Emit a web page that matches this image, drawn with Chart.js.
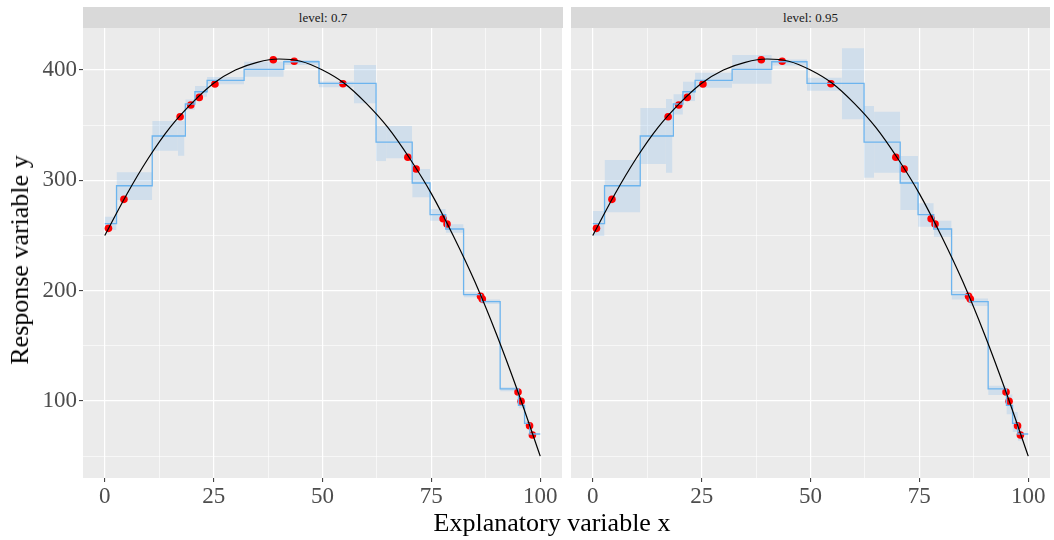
<!DOCTYPE html>
<html>
<head>
<meta charset="utf-8">
<script src="https://cdn.jsdelivr.net/npm/chart.js@4.4.0/dist/chart.umd.min.js"></script>
<style>
  body { margin: 0; background: #fff; font-family: "Liberation Serif", serif; }
  #wrap { position: relative; width: 1054px; height: 540px; overflow: hidden; }
  canvas { position: absolute; top: 0; }
  .strip { position: absolute; top: 7px; height: 21px; background: #d9d9d9; color: #1a1a1a;
           font-size: 13px; line-height: 21px; text-align: center; }
  .title { position: absolute; color: #000; font-size: 26px; white-space: nowrap; }
</style>
</head>
<body>
<div id="wrap">
  <canvas id="left" width="566" height="540" style="left:0"></canvas>
  <canvas id="right" width="488" height="540" style="left:566px"></canvas>
  <div class="strip" style="left:83px;width:480px">level: 0.7</div>
  <div class="strip" style="left:571px;width:479px">level: 0.95</div>
  <div class="title" id="xt" style="left:552px;top:523px;transform:translate(-50%,-50%)">Explanatory variable x</div>
  <div class="title" id="yt" style="left:20px;top:260px;transform:translate(-50%,-50%) rotate(-90deg)">Response variable y</div>
</div>
<script>
// observed points (same in both panels)
var pointX = [0.85, 4.4, 17.3, 19.75, 21.7, 25.3, 38.7, 43.5, 54.7, 69.6, 71.5, 77.7, 78.6, 86.3, 86.7, 94.9, 95.6, 97.55, 98.2];
var pointY = [256.5, 282.8, 357.7, 368.3, 375.2, 387.3, 409.3, 407.9, 387.6, 320.9, 310.3, 265.2, 260.4, 194.9, 192.4, 108.2, 99.7, 77.6, 69.2];

// true mean curve, read every 5 units
var curveX = [0, 5, 10, 15, 20, 25, 30, 35, 40, 45, 50, 55, 60, 65, 70, 75, 80, 85, 90, 95, 100];
var curveY = [250, 287, 320, 348, 370, 388, 400, 407, 410, 408, 400, 388, 370, 348, 320, 288, 250, 208, 160, 107, 50];

// step fit: start of each step and its value, last entry closes the line at x=100
var stepX = [0, 2.7, 10.9, 18.5, 20.7, 23.5, 32.0, 41.1, 49.2, 62.3, 70.6, 74.7, 78.3, 82.4, 86.5, 90.8, 95.0, 96.4, 97.6, 100];
var stepY = [260.7, 295.1, 340.2, 369.2, 380.3, 390.6, 400.6, 407.5, 387.9, 334.7, 297.6, 268.9, 255.9, 196.4, 190.0, 110.9, 96.1, 79.8, 70.1, 70.1];

// bands, level 0.7
var band70X0 = [0, 2.7, 10.9, 16.8, 18.5, 20.7, 23.5, 32.0, 41.1, 49.2, 57.2, 62.3, 64.6, 70.6, 74.7, 78.3, 82.4, 86.5, 90.8, 95.0, 96.4, 97.6];
var band70X1 = [2.7, 10.9, 16.8, 18.3, 20.7, 23.5, 32.0, 41.1, 49.2, 57.2, 62.3, 64.6, 70.6, 74.7, 78.3, 82.4, 86.5, 90.8, 95.0, 96.4, 97.6, 98.6];
var band70Lo = [255, 282.2, 326.9, 322.3, 364, 375.8, 387, 393.9, 404.5, 384.3, 369.8, 317.5, 320, 284.6, 263.4, 252.6, 194, 188, 108.8, 93.5, 77.5, 68];
var band70Hi = [267, 307.3, 353.8, 353.8, 373.4, 385.5, 393.7, 407.5, 409, 389.7, 404.5, 349.2, 349.2, 310.3, 274, 260.1, 198.5, 192, 112.4, 98.5, 82, 72];

// bands, level 0.95
var band95X0 = [0, 2.7, 10.9, 16.8, 18.5, 20.7, 23.5, 32.0, 41.1, 49.2, 57.2, 62.3, 64.6, 70.6, 74.7, 78.3, 82.4, 86.5, 90.8, 95.0, 96.4, 97.6];
var band95X1 = [2.7, 10.9, 16.8, 18.3, 20.7, 23.5, 32.0, 41.1, 49.2, 57.2, 62.3, 64.6, 70.6, 74.7, 78.3, 82.4, 86.5, 90.8, 95.0, 96.4, 97.6, 98.6];
var band95Lo = [249.5, 271, 314.8, 307, 359.8, 371.9, 384, 387.6, 404, 381.3, 355.3, 302.4, 306.9, 273.1, 258, 248.9, 192, 186, 105.4, 88, 72, 64];
var band95Hi = [272.2, 318.4, 365.6, 373.7, 378, 389.4, 397.6, 413.6, 409.5, 393, 419.7, 367.4, 362.2, 322, 279.2, 263.4, 200, 193, 113.9, 106, 90, 76];

var xGrid = [0, 12.5, 25, 37.5, 50, 62.5, 75, 87.5, 100];
var yGrid = [50, 100, 150, 200, 250, 300, 350, 400];

// grey panel background
var panelBg = {
  id: 'panelBg',
  beforeDraw: function(chart) {
    var a = chart.chartArea, c = chart.ctx;
    c.save();
    c.fillStyle = '#ebebeb';
    c.fillRect(a.left, a.top, a.right - a.left, a.bottom - a.top);
    c.restore();
  }
};

function xy(xs, ys) {
  return xs.map(function(x, i) { return {x: x, y: ys[i]}; });
}

function makePanel(id, x0, x1, lo, hi, first) {
  var sets = [];
  for (var i = 0; i < x0.length; i++) {
    sets.push({
      data: [{x: x0[i], y: hi[i]}, {x: x1[i], y: hi[i]}],
      borderWidth: 0, pointRadius: 0,
      backgroundColor: 'rgba(120,180,235,0.24)',
      fill: {value: lo[i]},
      order: 10
    });
  }
  sets.push({
    data: xy(pointX, pointY), showLine: false,
    pointRadius: 3.8, pointBackgroundColor: '#ff0000', pointBorderWidth: 0,
    order: 3
  });
  // 'before' keeps each value until the next break
  sets.push({
    data: xy(stepX, stepY), stepped: 'before',
    borderColor: '#6cb4ee', borderWidth: 1.3, pointRadius: 0, fill: false,
    order: 2
  });
  sets.push({
    data: xy(curveX, curveY), cubicInterpolationMode: 'monotone',
    borderColor: '#000', borderWidth: 1.2, pointRadius: 0, fill: false,
    order: 1
  });

  new Chart(document.getElementById(id), {
    type: 'line',
    data: {datasets: sets},
    plugins: [panelBg],
    options: {
      responsive: false, animation: false,
      layout: {padding: {top: 28, right: first ? 3 : 4, bottom: 0, left: 0}},
      plugins: {legend: {display: false}, tooltip: {enabled: false}},
      scales: {
        x: {
          type: 'linear', min: -5, max: 105,
          afterBuildTicks: function(s) { s.ticks = xGrid.map(function(v) { return {value: v}; }); },
          afterFit: function(s) { s.height = 62; },
          border: {display: false},
          grid: {
            color: '#ffffff',
            lineWidth: function(ctx) { return ctx.tick && ctx.tick.value % 25 === 0 ? 1.2 : 0.6; },
            tickColor: function(ctx) { return ctx.tick && ctx.tick.value % 25 === 0 ? '#333333' : 'rgba(0,0,0,0)'; },
            tickLength: 4, tickWidth: 1
          },
          ticks: {
            autoSkip: false, maxRotation: 0, padding: 1, color: '#4d4d4d',
            font: {family: 'Liberation Serif', size: 23},
            callback: function(v) { return v % 25 === 0 ? String(v) : ''; }
          }
        },
        y: {
          type: 'linear', min: 30.2, max: 438.1,
          afterBuildTicks: function(s) { s.ticks = yGrid.map(function(v) { return {value: v}; }); },
          afterFit: function(s) { s.width = first ? 83 : 5; },
          border: {display: false},
          grid: {
            color: '#ffffff',
            lineWidth: function(ctx) { return ctx.tick && ctx.tick.value % 100 === 0 ? 1.2 : 0.6; },
            drawTicks: first,
            tickColor: function(ctx) { return ctx.tick && ctx.tick.value % 100 === 0 ? '#333333' : 'rgba(0,0,0,0)'; },
            tickLength: 4, tickWidth: 1
          },
          ticks: {
            display: first, autoSkip: false, padding: 2, color: '#4d4d4d',
            font: {family: 'Liberation Serif', size: 23},
            callback: function(v) { return v % 100 === 0 ? String(v) : ''; }
          }
        }
      }
    }
  });
}

makePanel('left', band70X0, band70X1, band70Lo, band70Hi, true);
makePanel('right', band95X0, band95X1, band95Lo, band95Hi, false);
</script>
</body>
</html>
